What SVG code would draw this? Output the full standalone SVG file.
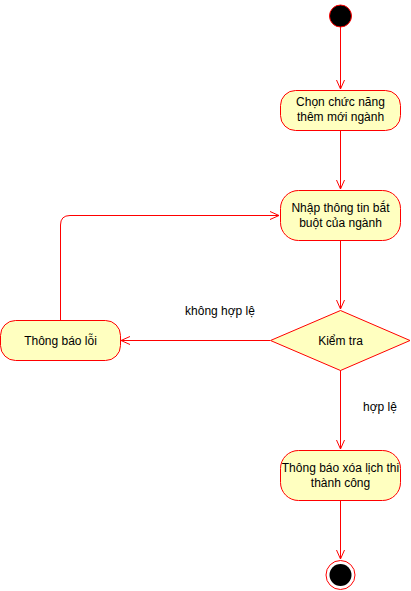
<svg xmlns="http://www.w3.org/2000/svg" width="411" height="591" viewBox="0 0 411 591">
<style>
.n{fill:#ffffc0;stroke:#ff0000;stroke-width:1}
.t{font-family:"Liberation Sans",Arial,sans-serif;font-size:12px;fill:#000;text-anchor:middle}
.e{fill:none;stroke:#ff0000;stroke-width:1}
</style>
<defs>
<marker id="a" viewBox="0 0 10 10" refX="10" refY="5" markerWidth="10" markerHeight="10" markerUnits="userSpaceOnUse" orient="auto">
<path d="M1,1 L10,5 L1,9" fill="none" stroke="#ff0000" stroke-width="1"/>
</marker>
</defs>
<rect width="411" height="591" fill="#fff"/>
<g id="connectors">
<path class="e" d="M340.5,27 V89" marker-end="url(#a)"/>
<path class="e" d="M340.5,130 V189" marker-end="url(#a)"/>
<path class="e" d="M340.5,240 V309" marker-end="url(#a)"/>
<path class="e" d="M270,340.5 H121" marker-end="url(#a)"/>
<path class="e" d="M60.5,320 V225 Q60.5,215.5 70,215.5 H279" marker-end="url(#a)"/>
<path class="e" d="M340.5,370 V449" marker-end="url(#a)"/>
<path class="e" d="M340.5,500 V559" marker-end="url(#a)"/>
<text class="t" x="220" y="315">không hợp lệ</text>
<text class="t" x="380" y="411">hợp lệ</text>
</g>
<g id="start"><circle cx="340.5" cy="16" r="11" fill="#000" stroke="#ff0000" stroke-width="1"/></g>
<g id="chon">
<rect class="n" x="280.5" y="90.5" width="120" height="40" rx="15" ry="15"/>
<text class="t" x="340.5" y="106">Chọn chức năng</text>
<text class="t" x="340.5" y="121">thêm mới ngành</text>
</g>
<g id="nhap">
<rect class="n" x="280.5" y="190.5" width="120" height="50" rx="18" ry="18"/>
<text class="t" x="340.5" y="212">Nhập thông tin bắt</text>
<text class="t" x="340.5" y="227">buột của ngành</text>
</g>
<g id="kiemtra">
<path class="n" d="M340.5,310.5 L410,340.5 L340.5,370.5 L270.5,340.5 Z"/>
<text class="t" x="340.5" y="345">Kiểm tra</text>
</g>
<g id="loi">
<rect class="n" x="0.5" y="320.5" width="120" height="40" rx="15" ry="15"/>
<text class="t" x="60.5" y="345">Thông báo lỗi</text>
</g>
<g id="thanhcong">
<rect class="n" x="280.5" y="450.5" width="120" height="50" rx="18" ry="18"/>
<text class="t" x="340.5" y="472">Thông báo xóa lịch thi</text>
<text class="t" x="340.5" y="487">thành công</text>
</g>
<g id="end">
<circle cx="340.5" cy="575" r="14.5" fill="#fff" stroke="#ff0000" stroke-width="1"/>
<circle cx="340.5" cy="575" r="11" fill="#000"/>
</g>
</svg>
